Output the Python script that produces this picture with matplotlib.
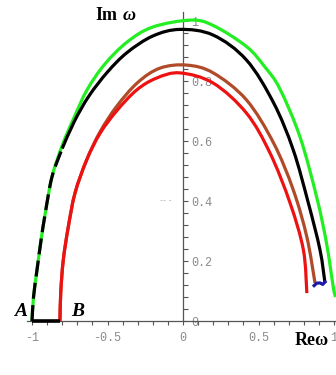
import matplotlib
matplotlib.use("Agg")
import matplotlib.pyplot as plt
from matplotlib.path import Path
from matplotlib.patches import PathPatch
from matplotlib.ticker import FixedLocator

# Curves in the complex omega plane (Re, Im)
green_re = [-1.0, -0.99, -0.967, -0.94, -0.912, -0.868, -0.80, -0.72, -0.636, -0.52,
            -0.37, -0.20, 0.05, 0.20, 0.42, 0.54, 0.64, 0.775, 0.885, 0.95,
            0.995, 1.01]
green_im = [0.0, 0.08, 0.17, 0.27, 0.36, 0.48, 0.585, 0.68, 0.77, 0.855,
            0.93, 0.98, 1.003, 0.985, 0.915, 0.848, 0.775, 0.613, 0.413, 0.26,
            0.113, 0.08]

black_re = [-1.0, -0.99, -0.967, -0.94, -0.912, -0.868, -0.80, -0.72, -0.623, -0.50,
            -0.37, -0.20, -0.02, 0.20, 0.42, 0.60, 0.73, 0.83, 0.907, 0.94]
black_im = [0.0, 0.08, 0.17, 0.27, 0.36, 0.48, 0.575, 0.665, 0.75, 0.83,
            0.895, 0.95, 0.972, 0.953, 0.87, 0.727, 0.57, 0.393, 0.237, 0.127]
black_dashed_n = 6  # lower-left part drawn dashed over the green curve

brown_re = [-0.815, -0.81, -0.793, -0.76, -0.715, -0.638, -0.55, -0.44, -0.30, -0.152,
            0.025, 0.20, 0.42, 0.60, 0.73, 0.82, 0.874]
brown_im = [0.0, 0.093, 0.203, 0.313, 0.427, 0.537, 0.63, 0.715, 0.795, 0.843,
            0.853, 0.827, 0.737, 0.593, 0.437, 0.28, 0.127]

red_re = [-0.815, -0.81, -0.793, -0.76, -0.715, -0.638, -0.55, -0.44, -0.307, -0.174,
          -0.02, 0.20, 0.42, 0.576, 0.709, 0.797, 0.82]
red_im = [0.0, 0.093, 0.203, 0.313, 0.427, 0.537, 0.625, 0.70, 0.77, 0.81,
          0.827, 0.793, 0.693, 0.56, 0.393, 0.237, 0.093]

blue_re = [0.868, 0.885, 0.907, 0.925, 0.94]
blue_im = [0.118, 0.126, 0.127, 0.122, 0.13]

ab_re = [-1.0, -0.815]
ab_im = [0.0, 0.0]

x_major = [-1, -0.5, 0, 0.5, 1]
x_minor = [-1.0, -0.9, -0.8, -0.7, -0.6, -0.4, -0.3, -0.2, -0.1,
           0.1, 0.2, 0.3, 0.4, 0.6, 0.7, 0.8, 0.9]
x_labels = ["-1", "-0.5", "0", "0.5", "1"]
y_major = [0, 0.2, 0.4, 0.6, 0.8, 1]
y_minor = [0.04, 0.08, 0.12, 0.16, 0.24, 0.28, 0.32, 0.36, 0.44, 0.48, 0.52, 0.56,
           0.64, 0.68, 0.72, 0.76, 0.84, 0.88, 0.92, 0.96]
y_labels = ["0", "0.2", "0.4", "0.6", "0.8", "1"]


def smooth_path(xs, ys):
    """Cubic Bezier path through the given points (Catmull-Rom tangents)."""
    n = len(xs)
    verts = [(xs[0], ys[0])]
    codes = [Path.MOVETO]
    for i in range(n - 1):
        x0, y0 = xs[max(i - 1, 0)], ys[max(i - 1, 0)]
        x1, y1 = xs[i], ys[i]
        x2, y2 = xs[i + 1], ys[i + 1]
        x3, y3 = xs[min(i + 2, n - 1)], ys[min(i + 2, n - 1)]
        c1 = (x1 + (x2 - x0) / 6.0, y1 + (y2 - y0) / 6.0)
        c2 = (x2 - (x3 - x1) / 6.0, y2 - (y3 - y1) / 6.0)
        verts += [c1, c2, (x2, y2)]
        codes += [Path.CURVE4] * 3
    return Path(verts, codes)


def draw_curve(ax, xs, ys, **kw):
    patch = PathPatch(smooth_path(xs, ys), fill=False, **kw)
    ax.add_patch(patch)
    return patch


fig = plt.figure(figsize=(3.36, 3.75), dpi=100)
ax = fig.add_axes([0, 0, 1, 1])
ax.set_xlim(-1.212, 1.013)
ax.set_ylim(-0.18, 1.07)

axis_col = "#555555"
lbl_col = "#8a8a8a"
for side in ("top", "right"):
    ax.spines[side].set_visible(False)
ax.spines["left"].set_position(("data", 0))
ax.spines["bottom"].set_position(("data", 0))
ax.spines["left"].set_bounds(0, 1.03)
ax.spines["bottom"].set_bounds(-1.03, 1.013)
for side in ("left", "bottom"):
    ax.spines[side].set_color(axis_col)
    ax.spines[side].set_linewidth(0.9)

ax.xaxis.set_major_locator(FixedLocator(x_major))
ax.xaxis.set_minor_locator(FixedLocator(x_minor))
ax.set_xticklabels(x_labels)
ax.yaxis.set_major_locator(FixedLocator(y_major))
ax.yaxis.set_minor_locator(FixedLocator(y_minor))
ax.set_yticklabels(y_labels)

ax.tick_params(axis="x", which="both", direction="out", length=3, width=0.8,
               color=axis_col, labelsize=8.5, labelcolor=lbl_col, pad=5)
ax.tick_params(axis="y", which="both", direction="in", length=3.5, width=0.8,
               color=axis_col, labelsize=8.5, labelcolor=lbl_col, pad=-6)
for t in ax.get_yticklabels():
    t.set_horizontalalignment("left")
for t in ax.get_xticklabels() + ax.get_yticklabels():
    t.set_family("Liberation Mono")

lw = 2.3
draw_curve(ax, green_re, green_im, edgecolor="#22ee22", lw=lw, zorder=3)
draw_curve(ax, black_re[:black_dashed_n + 1], black_im[:black_dashed_n + 1],
           edgecolor="black", lw=lw, linestyle=(0, (5, 2)), zorder=4)
draw_curve(ax, black_re[black_dashed_n:], black_im[black_dashed_n:],
           edgecolor="black", lw=lw, zorder=4)
draw_curve(ax, brown_re, brown_im, edgecolor="#b04a28", lw=lw, zorder=3)
draw_curve(ax, red_re, red_im, edgecolor="#ee1111", lw=lw, zorder=3.5)
ax.plot(blue_re, blue_im, color="#1a1aa8", lw=lw, zorder=5)
ax.plot(ab_re, ab_im, color="black", lw=2.6, solid_capstyle="butt", zorder=5)

# Axis names and point labels
ax.text(-0.58, 1.02, "Im", fontsize=13, fontweight="bold", family="Liberation Serif",
        ha="left", va="center")
ax.text(-0.40, 1.02, "\u03c9", fontsize=13, fontweight="bold", style="italic",
        family="Liberation Serif", ha="left", va="center")
ax.text(0.74, -0.065, "Re\u03c9", fontsize=13, fontweight="bold",
        family="Liberation Serif", ha="left", va="center")
ax.text(-1.03, 0.03, "A", fontsize=14, fontweight="bold", style="italic",
        family="Liberation Serif", ha="right", va="center")
ax.text(-0.74, 0.03, "B", fontsize=14, fontweight="bold", style="italic",
        family="Liberation Serif", ha="left", va="center")
ax.text(-0.15, 0.403, "-- -", fontsize=6, color="#bbbbbb", ha="left", va="center")

fig.savefig("out.png", dpi=100)
